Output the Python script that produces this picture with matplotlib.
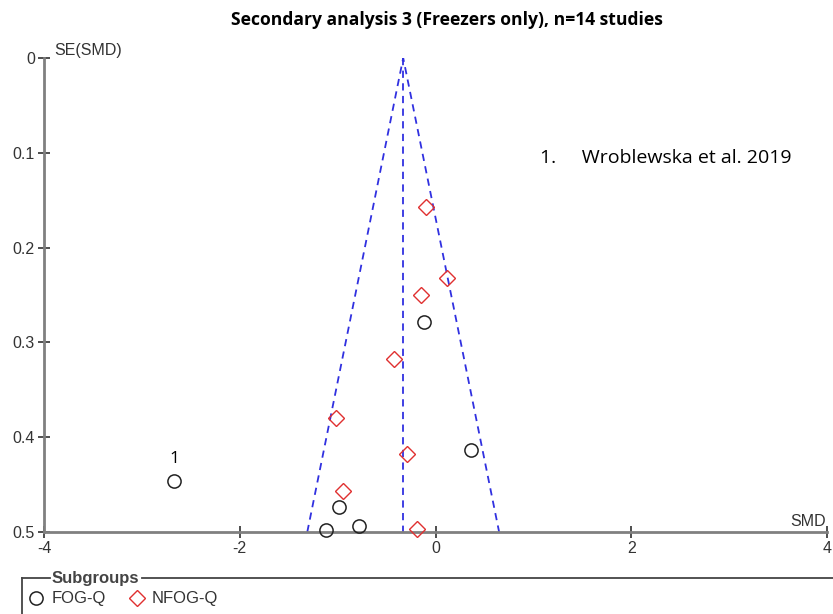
import matplotlib
matplotlib.use("Agg")
import matplotlib.pyplot as plt
from matplotlib.lines import Line2D
import numpy as np

plt.rcParams["axes.unicode_minus"] = False

# study estimates
fog_smd = [-0.12, 0.36, -0.99, -1.12, -0.78, -2.67]
fog_se = [0.278, 0.414, 0.474, 0.498, 0.494, 0.446]
nfog_smd = [-0.10, 0.12, -0.15, -0.42, -1.02, -0.29, -0.95, -0.19]
nfog_se = [0.157, 0.232, 0.250, 0.318, 0.380, 0.418, 0.457, 0.497]
pooled = -0.33
xticks = [-4, -2, 0, 2, 4]
yticks = [0, 0.1, 0.2, 0.3, 0.4, 0.5]
ytick_labels = ["0", "0.1", "0.2", "0.3", "0.4", "0.5"]

fig = plt.figure(figsize=(8.33, 6.14), dpi=100)
ax = fig.add_axes([44/833, 1-532/614, 783/833, 474/614])

# funnel
se_max = 0.5
ax.plot([pooled - 1.96*se_max, pooled, pooled + 1.96*se_max], [se_max, 0, se_max],
        color="#3030e0", lw=1.3, ls=(0, (4, 3)), zorder=2)
ax.plot([pooled, pooled], [0, se_max], color="#3030e0", lw=1.3, ls=(0, (4, 3)), zorder=2)

ax.plot(fog_smd, fog_se, ls="none", marker="o", ms=9.5, mfc="none", mec="#222222",
        mew=1.1, clip_on=False, zorder=3)
ax.plot(nfog_smd, nfog_se, ls="none", marker="D", ms=8.3, mfc="none", mec="#e03030",
        mew=1.0, clip_on=False, zorder=3)

ax.set_xlim(-4, 4)
ax.set_ylim(0.5, 0)
ax.set_xticks(xticks)
ax.set_yticks(yticks)
ax.set_yticklabels(ytick_labels)
for s in ["top", "right"]:
    ax.spines[s].set_visible(False)
for s in ["left", "bottom"]:
    ax.spines[s].set_color("#808080")
    ax.spines[s].set_linewidth(2)
ax.tick_params(direction="inout", length=9, width=1.3, color="#404040",
               labelsize=11.5, labelcolor="#333333", pad=2)
for lab in ax.get_xticklabels() + ax.get_yticklabels():
    lab.set_family("Liberation Sans")

ax.text(-3.9, 0.0, "SE(SMD)", fontsize=11.5, color="#333333", family="Liberation Sans",
        ha="left", va="bottom")
ax.text(3.99, 0.497, "SMD", fontsize=11.5, color="#333333", family="Liberation Sans",
        ha="right", va="bottom")

# outlier label
ax.text(fog_smd[5], fog_se[5] - 0.015, "1", fontsize=12.5, ha="center", va="bottom",
        family="Open Sans")
ax.text(1.07, 0.105, "1.     Wroblewska et al. 2019", fontsize=14, ha="left", va="center",
        family="Open Sans")

fig.text(447/833, 1-20/614, "Secondary analysis 3 (Freezers only), n=14 studies",
         fontsize=12.6, fontweight="bold", ha="center", va="center", family="Open Sans")

# legend fieldset
ly = 1 - 578/614
fig.add_artist(Line2D([22/833, 22/833], [0, ly], color="#444444", lw=1.3))
fig.add_artist(Line2D([22/833, 50/833], [ly, ly], color="#444444", lw=1.3))
fig.add_artist(Line2D([142/833, 1], [ly, ly], color="#444444", lw=1.3))
fig.text(52/833, ly, "Subgroups", fontsize=12, fontweight="bold", color="#444444",
         ha="left", va="center", family="Liberation Sans")
ey = 1 - 598/614
fig.add_artist(Line2D([36/833], [ey], ls="none", marker="o", ms=9.5, mfc="none",
                      mec="#222222", mew=1.1))
fig.text(52/833, ey, "FOG-Q", fontsize=12, color="#333333", ha="left", va="center",
         family="Liberation Sans")
fig.add_artist(Line2D([137/833], [ey], ls="none", marker="D", ms=8.3, mfc="none",
                      mec="#e03030", mew=1.0))
fig.text(152/833, ey, "NFOG-Q", fontsize=12, color="#333333", ha="left", va="center",
         family="Liberation Sans")

fig.savefig("out.png", dpi=100)
